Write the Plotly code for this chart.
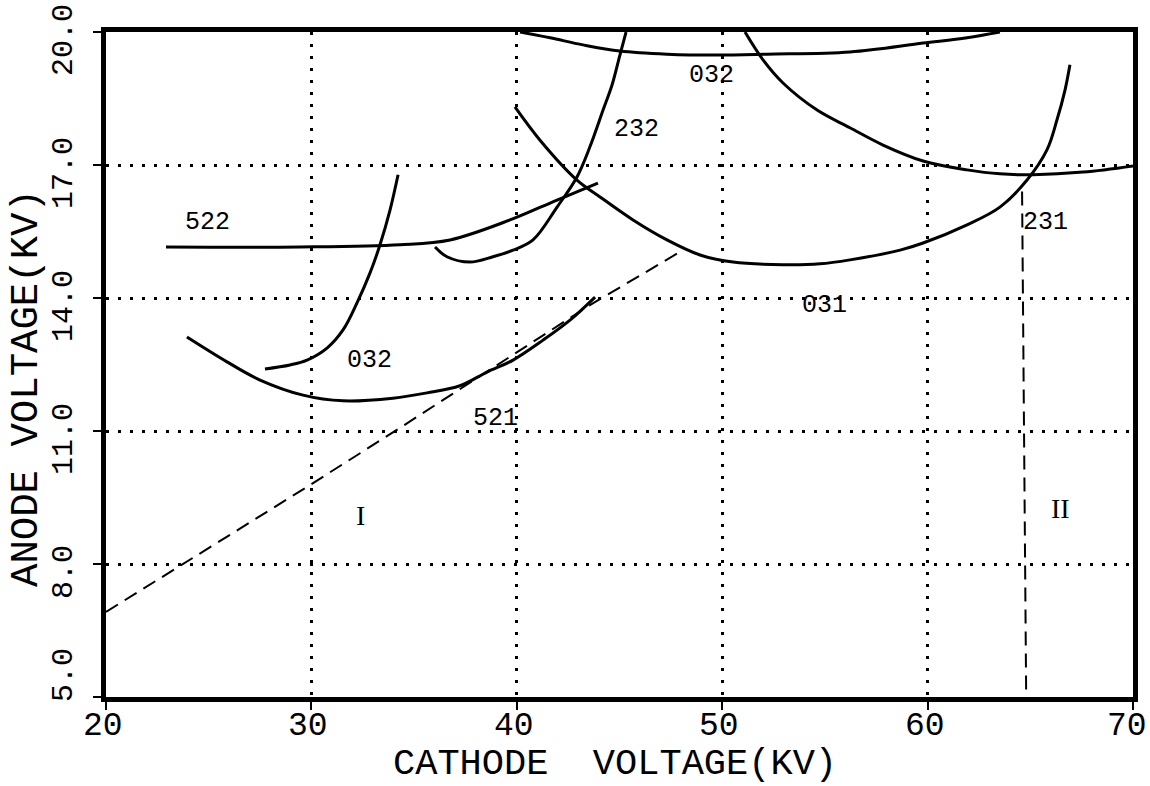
import plotly.graph_objects as go

# ---- data (cathode kV, anode kV) ----
c522_x = [22.92, 29.44, 34.31, 36.75, 39.67, 41.96, 43.95]
c522_y = [15.15, 15.15, 15.20, 15.31, 15.76, 16.21, 16.59]

c032a_x = [27.74, 28.96, 29.79, 30.76, 31.54, 32.22, 32.85, 33.34, 33.83, 34.22]
c032a_y = [12.40, 12.49, 12.60, 12.87, 13.28, 13.89, 14.56, 15.20, 15.99, 16.78]

c521_x = [23.94, 25.89, 27.50, 29.59, 31.54, 33.97, 35.63, 37.23, 38.55, 39.82, 41.28, 42.59, 43.81]
c521_y = [13.12, 12.56, 12.15, 11.81, 11.68, 11.74, 11.86, 12.02, 12.33, 12.60, 13.05, 13.50, 14.02]

c232_x = [36.02, 36.60, 37.72, 38.84, 39.82, 40.79, 41.96, 42.93, 43.56, 44.20, 44.64, 45.02, 45.32]
c232_y = [15.15, 14.93, 14.81, 14.93, 15.08, 15.31, 16.05, 16.73, 17.41, 18.24, 18.81, 19.48, 20.00]

c032b_x = [40.16, 41.62, 43.22, 45.02, 47.31, 49.75, 52.18, 56.22, 59.78, 61.92, 63.52]
c032b_y = [20.00, 19.87, 19.71, 19.57, 19.50, 19.48, 19.50, 19.55, 19.75, 19.87, 20.00]

c231_x = [51.11, 51.99, 52.96, 54.62, 56.22, 57.83, 59.78, 61.92, 63.52, 65.13, 67.57, 70.00]
c231_y = [20.00, 19.37, 18.85, 18.24, 17.84, 17.45, 17.09, 16.89, 16.80, 16.78, 16.84, 16.98]

c031_x = [39.91, 41.13, 42.93, 44.05, 45.66, 47.31, 48.92, 50.53, 52.96, 54.76, 56.22, 58.66,
          59.78, 61.92, 63.52, 64.84, 65.81, 66.30, 66.69, 66.93]
c031_y = [18.31, 17.56, 16.66, 16.28, 15.76, 15.31, 14.97, 14.81, 14.75, 14.77, 14.86, 15.08,
          15.24, 15.65, 16.05, 16.66, 17.34, 18.02, 18.69, 19.26]

bound1_x = [20.0, 29.79, 34.31, 43.56, 48.09]
bound1_y = [6.92, 9.74, 11.07, 13.84, 15.08]

bound2_x = [64.6, 64.8]
bound2_y = [16.4, 5.0]

label_text = ["522", "032", "521", "232", "032", "031", "231", "I", "II"]
label_x = [24.92, 32.85, 38.94, 45.85, 49.5, 55.0, 65.72, 32.37, 66.45]
label_y = [15.71, 12.60, 11.29, 17.79, 19.03, 13.84, 15.71, 9.10, 9.26]

x_ticks = [20, 30, 40, 50, 60, 70]
x_ticktext = ["20", "30", "40", "50", "60", "70"]
y_ticks = [5.0, 8.0, 11.0, 14.0, 17.0, 20.0]
y_ticktext = ["5.0", "8.0", "11.0", "14.0", "17.0", "20.0"]

MONO = "Liberation Mono"
L, R, T, B = 106, 17, 32, 89
PW, PH = 1150 - L - R, 786 - T - B

fig = go.Figure()
solid = dict(color="black", width=3)
for xs, ys in [(c522_x, c522_y), (c032a_x, c032a_y), (c521_x, c521_y), (c232_x, c232_y),
               (c032b_x, c032b_y), (c231_x, c231_y), (c031_x, c031_y)]:
    fig.add_trace(go.Scatter(x=xs, y=ys, mode="lines",
                             line=dict(shape="spline", smoothing=1.0, **solid),
                             showlegend=False, hoverinfo="skip"))
for xs, ys in [(bound1_x, bound1_y), (bound2_x, bound2_y)]:
    fig.add_trace(go.Scatter(x=xs, y=ys, mode="lines",
                             line=dict(color="black", width=2, dash="14px,8px"),
                             showlegend=False, hoverinfo="skip"))

for t, x, y in zip(label_text, label_x, label_y):
    serif = t in ("I", "II")
    fig.add_annotation(x=x, y=y, text=t, showarrow=False,
                       font=dict(family="Liberation Serif" if serif else MONO,
                                 size=28 if serif else 25, color="black"))

axis_common = dict(showline=True, linewidth=5, linecolor="black", mirror=True,
                   ticks="outside", ticklen=8, tickwidth=2, tickcolor="black",
                   showgrid=True, gridcolor="black", gridwidth=3, griddash="3px,9px",
                   zeroline=False, showticklabels=False)

fig.update_xaxes(range=[20, 70], tickvals=x_ticks, **axis_common)
fig.update_yaxes(range=[5, 20], tickvals=y_ticks, **axis_common)

# tick labels (plotter style placement)
for i, (v, t) in enumerate(zip(x_ticks, x_ticktext)):
    last = i == len(x_ticks) - 1
    fig.add_annotation(x=v, xref="x", yref="paper", y=-(726 - (786 - B)) / PH, text=t,
                       showarrow=False, xanchor="right" if last else "center", yanchor="middle",
                       xshift=16 if last else -3,
                       font=dict(family=MONO, size=33, color="black"))
for i, (v, t) in enumerate(zip(y_ticks, y_ticktext)):
    fig.add_annotation(y=v, yref="y", xref="paper", x=-(L - 64) / PW, text=t, textangle=-90,
                       showarrow=False, xanchor="center", yanchor="middle",
                       yshift=22 if i == 0 else -8,
                       font=dict(family=MONO, size=30, color="black"))

# axis titles
fig.add_annotation(xref="paper", yref="paper", x=(615 - L) / PW, y=-(764 - (786 - B)) / PH,
                   text="CATHODE  VOLTAGE(KV)", showarrow=False, xanchor="center", yanchor="middle",
                   font=dict(family=MONO, size=37, color="black"))
fig.add_annotation(xref="paper", yref="paper", x=-(L - 27) / PW, y=((786 - B) - 388) / PH,
                   text="ANODE VOLTAGE(KV)", showarrow=False, textangle=-90,
                   xanchor="center", yanchor="middle",
                   font=dict(family=MONO, size=39, color="black"))

fig.update_layout(width=1150, height=786, plot_bgcolor="white", paper_bgcolor="white",
                  margin=dict(l=L, r=R, t=T, b=B, autoexpand=False))

fig.write_html("out.html")
